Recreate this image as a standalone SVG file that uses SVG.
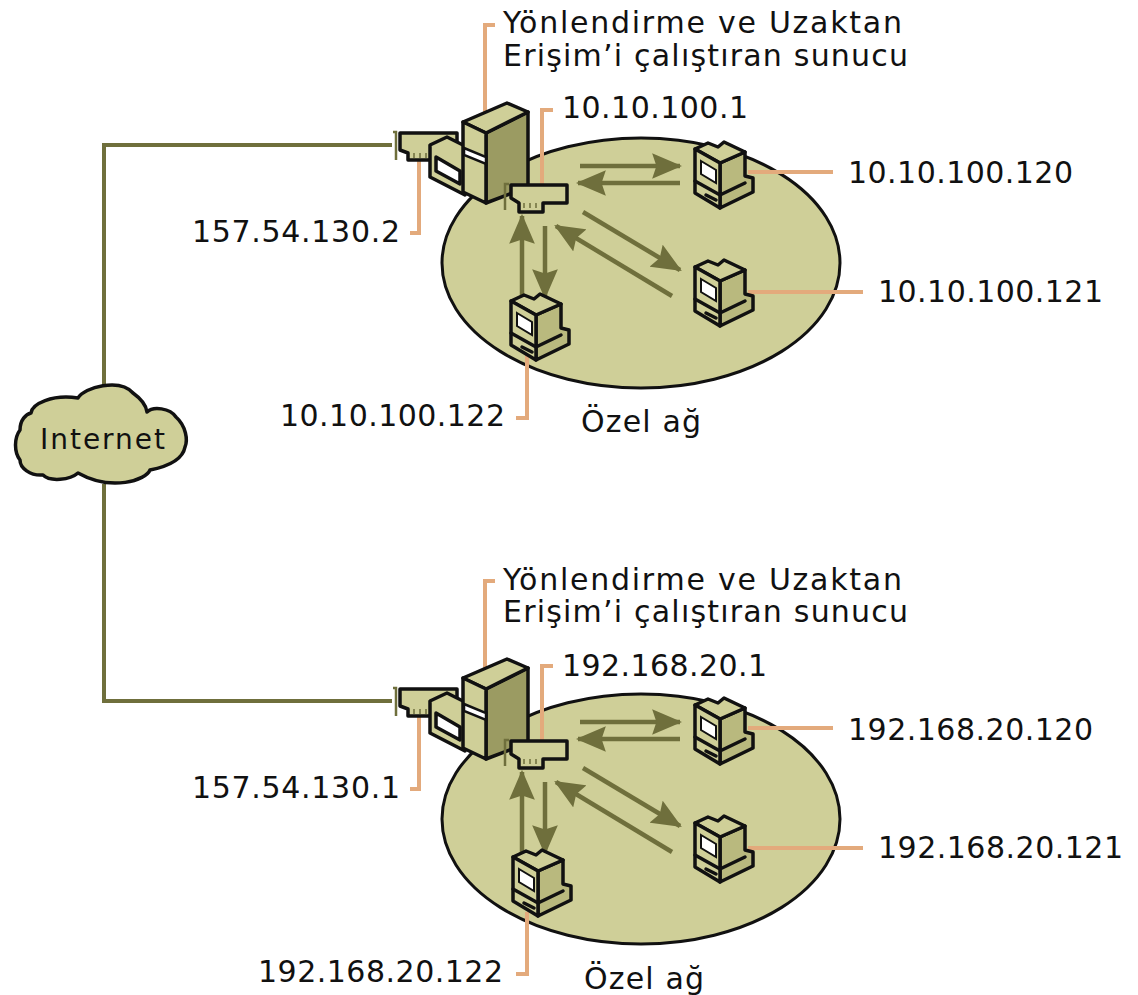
<svg xmlns="http://www.w3.org/2000/svg" width="1138" height="995" viewBox="0 0 1138 995">
<style>
text{font-family:"DejaVu Sans",Verdana,sans-serif;font-size:30px;fill:#111}
.b{stroke:#111;stroke-width:3.5;stroke-linejoin:round;stroke-linecap:round}
.f{fill:#cfcf98}.d{fill:#9b9b62}.m{fill:#b9b97e}.w{fill:#fff}
.lead{fill:none;stroke:#e3aa7c;stroke-width:4}
.wire{fill:none;stroke:#6f6f3c;stroke-width:4}
.tick{fill:none;stroke:#6f6f3c;stroke-width:2.5}
.arr{fill:none;stroke:#6f6f3c;stroke-width:4.5;marker-end:url(#ah)}
.lan{fill:#cfcf98;stroke:#111;stroke-width:3}
</style>
<defs>
<marker id="ah" markerUnits="userSpaceOnUse" markerWidth="30" markerHeight="26" refX="26" refY="12" orient="auto" viewBox="0 0 28 24"><path d="M0 0L28 12L0 24L4 12Z" fill="#6f6f3c"/></marker>
<g id="pc">
<path class="b m" d="M720 163L745 152V176L753 178V192L720 208Z"/>
<path class="b f" d="M695 149L708 143L718 147L724 142L745 152L720 163Z"/>
<path class="b f" d="M695 149L720 163V208L695 193Z"/>
<path class="b" fill="none" d="M695 181L720 195M720 195L745 183M706 195L716 200"/>
<path class="w" stroke="#111" stroke-width="2" d="M701 161L716 170V183L701 174Z"/>
</g>
<g id="server">
<path class="b f" d="M400 133H457V160H408V153L400 150Z"/>
<path stroke="#6f6f3c" stroke-width="1.5" d="M414 153V158M420 153V158M426 153V158"/>
<path class="b f" d="M430 145L447 137L465 146V195L430 177Z"/>
<path class="b w" d="M436 157L460 171V184L436 171Z"/>
<path class="b d" d="M486 133L528 112V187L486 203Z"/>
<path class="b f" d="M463 122L507 103L528 112L486 133Z"/>
<path class="b f" d="M463 122L486 133V203L463 192Z"/>
<path class="w" stroke="#111" stroke-width="2.5" d="M464 148L486 157V164L464 155Z"/>
<path class="tick" d="M509 184H505V210"/>
<path class="b f" d="M511 185H567V203H543V212H519V203L511 198Z"/>
<path stroke="#6f6f3c" stroke-width="1.5" d="M524 203V208M530 203V208M536 203V208"/>
</g>
<g id="lanarrows">
<path class="arr" d="M580 166H680"/>
<path class="arr" d="M680 183H578"/>
<path class="arr" d="M583 212L680 270"/>
<path class="arr" d="M672 296L556 226"/>
<path class="arr" d="M522 310V216"/>
<path class="arr" d="M545 226V297"/>
</g>
</defs>

<g id="lan-1"><ellipse class="lan" cx="641" cy="263" rx="199" ry="125"/></g>
<g id="lan-2"><ellipse class="lan" cx="641" cy="819" rx="199" ry="125"/></g>

<g id="connectors">
<path class="wire" d="M104 386V145H392"/>
<path class="wire" d="M104 484V701H392"/>
<path class="tick" d="M393 132H396V160M393 688H396V716"/>
<path class="lead" d="M485 112V25H495"/>
<path class="lead" d="M542 186V110H553"/>
<path class="lead" d="M419 160V233H410"/>
<path class="lead" d="M485 668V581H495"/>
<path class="lead" d="M542 742V666H553"/>
<path class="lead" d="M419 716V789H410"/>
<path class="lead" d="M748 172H833M748 292H863M527 355V418H516"/>
<path class="lead" d="M748 728H833M748 848H863M527 912V974H516"/>
<use href="#lanarrows"/>
<use href="#lanarrows" y="556"/>
</g>

<g id="internet">
<path class="b f" stroke-width="3" d="M20 430C20 420 26 414 31 413C32 404 52 394 78 398C84 387 120 378 133 393C140 398 146 404 147 412C153 406 170 408 176 417C186 426 188 440 185 447C183 458 170 466 150 470C146 480 112 492 78 473C70 480 50 482 43 475C30 476 20 468 20 460C14 452 14 438 20 430Z"/>
<text x="40" y="449" textLength="125" style="font-size:28px">Internet</text>
</g>

<g id="server-1"><use href="#server"/>
<text x="503" y="33" textLength="399">Yönlendirme ve Uzaktan</text>
<text x="503" y="66" textLength="405">Erişim’i çalıştıran sunucu</text>
<text x="562" y="118" textLength="186">10.10.100.1</text>
<text x="192" y="242" textLength="208">157.54.130.2</text>
</g>
<g id="pc-1a"><use href="#pc"/><text x="848" y="183" textLength="225">10.10.100.120</text></g>
<g id="pc-1b"><use href="#pc" y="118"/><text x="878" y="302" textLength="225">10.10.100.121</text></g>
<g id="pc-1c"><use href="#pc" x="-184" y="152"/><text x="280" y="426" textLength="225">10.10.100.122</text></g>
<text id="lan-1-label" x="581" y="432" textLength="120">Özel ağ</text>

<g id="server-2"><use href="#server" y="556"/>
<text x="503" y="590" textLength="399">Yönlendirme ve Uzaktan</text>
<text x="503" y="622" textLength="405">Erişim’i çalıştıran sunucu</text>
<text x="562" y="676" textLength="205">192.168.20.1</text>
<text x="192" y="798" textLength="208">157.54.130.1</text>
</g>
<g id="pc-2a"><use href="#pc" y="556"/><text x="848" y="740" textLength="245">192.168.20.120</text></g>
<g id="pc-2b"><use href="#pc" y="674"/><text x="878" y="858" textLength="245">192.168.20.121</text></g>
<g id="pc-2c"><use href="#pc" x="-182" y="708"/><text x="258" y="982" textLength="245">192.168.20.122</text></g>
<text id="lan-2-label" x="584" y="989" textLength="120">Özel ağ</text>
</svg>
